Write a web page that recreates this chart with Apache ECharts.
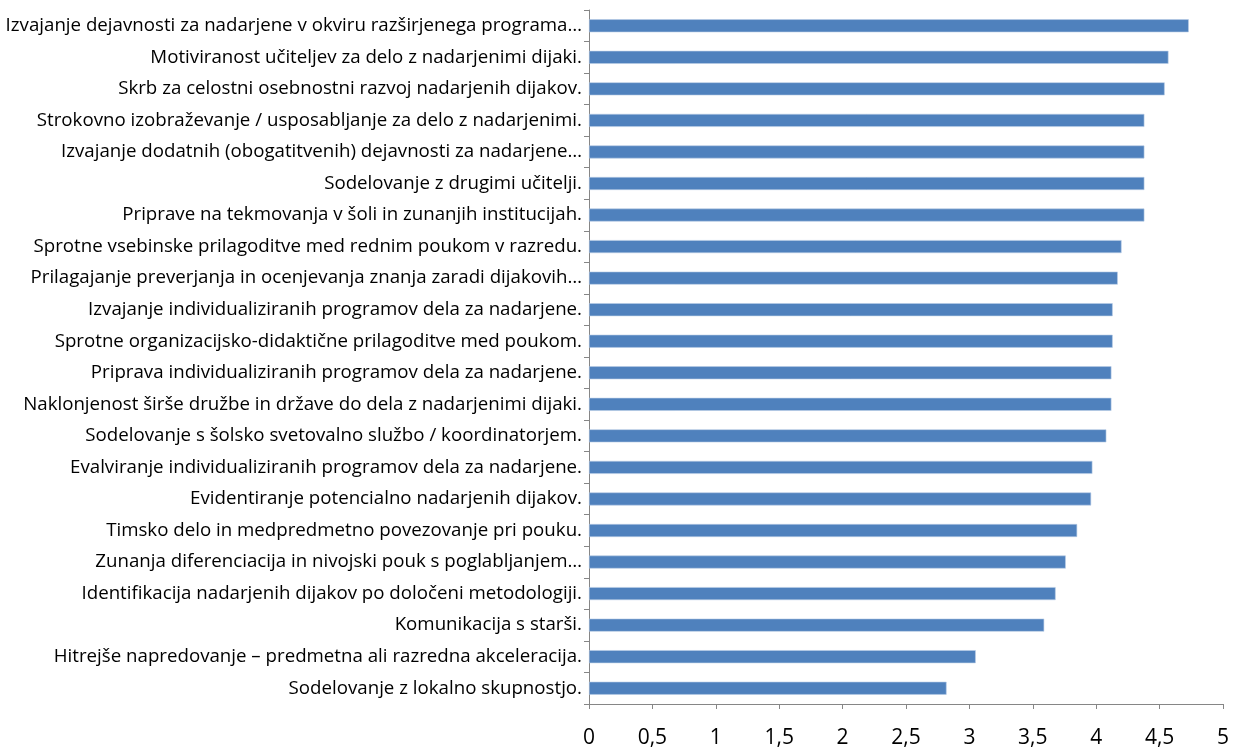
<!DOCTYPE html>
<html><head><meta charset="utf-8">
<script src="https://cdn.jsdelivr.net/npm/echarts@6/dist/echarts.min.js"></script>
<style>html,body{margin:0;padding:0;background:#fff}#c{width:1242px;height:751px}</style>
</head><body><div id="c"></div>
<script>
const categories = [
  "Izvajanje dejavnosti za nadarjene v okviru razširjenega programa…",
  "Motiviranost učiteljev za delo z nadarjenimi dijaki.",
  "Skrb za celostni osebnostni razvoj nadarjenih dijakov.",
  "Strokovno izobraževanje / usposabljanje za delo z nadarjenimi.",
  "Izvajanje dodatnih (obogatitvenih) dejavnosti za nadarjene…",
  "Sodelovanje z drugimi učitelji.",
  "Priprave na tekmovanja v šoli in zunanjih institucijah.",
  "Sprotne vsebinske prilagoditve med rednim poukom v razredu.",
  "Prilagajanje preverjanja in ocenjevanja znanja zaradi dijakovih…",
  "Izvajanje individualiziranih programov dela za nadarjene.",
  "Sprotne organizacijsko-didaktične prilagoditve med poukom.",
  "Priprava individualiziranih programov dela za nadarjene.",
  "Naklonjenost širše družbe in države do dela z nadarjenimi dijaki.",
  "Sodelovanje s šolsko svetovalno službo / koordinatorjem.",
  "Evalviranje individualiziranih programov dela za nadarjene.",
  "Evidentiranje potencialno nadarjenih dijakov.",
  "Timsko delo in medpredmetno povezovanje pri pouku.",
  "Zunanja diferenciacija in nivojski pouk s poglabljanjem…",
  "Identifikacija nadarjenih dijakov po določeni metodologiji.",
  "Komunikacija s starši.",
  "Hitrejše napredovanje – predmetna ali razredna akceleracija.",
  "Sodelovanje z lokalno skupnostjo."
];
const values = [4.73, 4.57, 4.54, 4.38, 4.38, 4.38, 4.38, 4.20, 4.17, 4.13, 4.13, 4.12, 4.12, 4.08, 3.97, 3.96, 3.85, 3.76, 3.68, 3.59, 3.05, 2.82];
const xTicks = ["0","0,5","1","1,5","2","2,5","3","3,5","4","4,5","5"];

const chart = echarts.init(document.getElementById('c'), null, {renderer:'canvas'});
chart.setOption({
  animation:false,
  grid:{left:589, right:19, top:10, bottom:47, containLabel:false},
  xAxis:{type:'value', min:0, max:5, interval:0.5,
    axisLine:{show:true, lineStyle:{color:'#868686', width:1}},
    axisTick:{show:true, length:5, lineStyle:{color:'#868686'}},
    splitLine:{show:false},
    axisLabel:{color:'#000', fontSize:21, fontFamily:'Open Sans', margin:24,
      formatter:(v)=>xTicks[Math.round(v*2)]}
  },
  yAxis:{type:'category', data:categories.slice().reverse(),
    axisLine:{show:true, lineStyle:{color:'#868686', width:1}},
    axisTick:{show:true, length:5, lineStyle:{color:'#868686'}},
    axisLabel:{color:'#000', fontSize:18.7, fontFamily:'Open Sans', margin:7}
  },
  series:[{type:'bar', data:values.slice().reverse(), barWidth:13,
    itemStyle:{color:'#4f81bd', borderColor:'#b9cde5', borderWidth:0.6}}]
});
</script></body></html>
